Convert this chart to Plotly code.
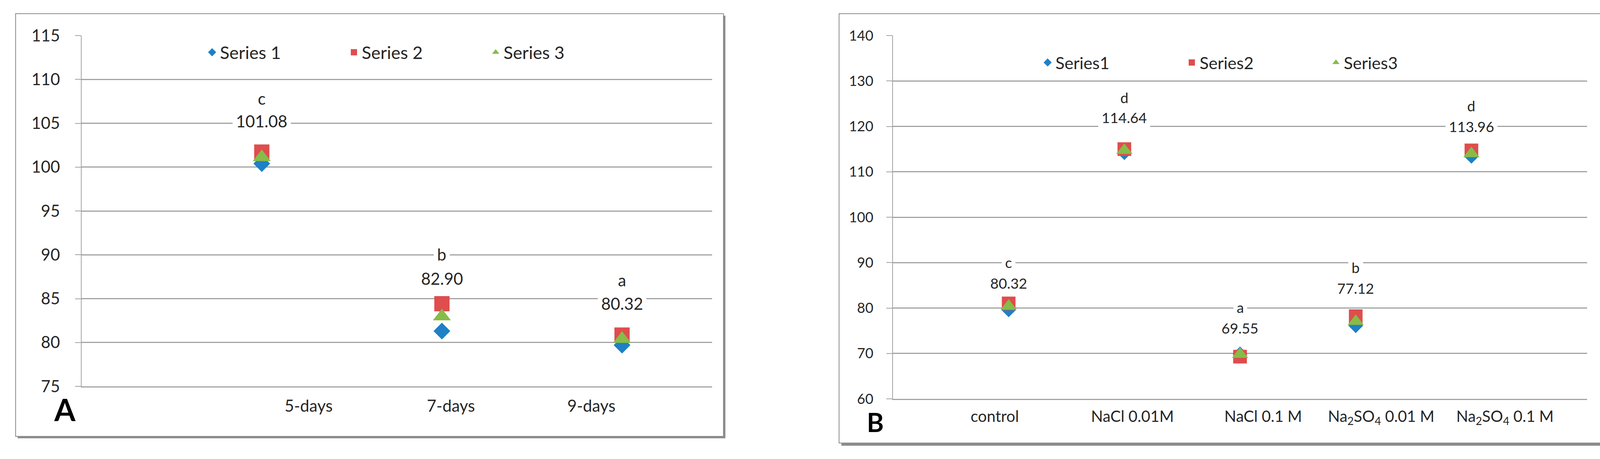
import plotly.graph_objects as go

W, H = 4150, 1175

# ---------------- data ----------------
cats_A = ["5-days", "7-days", "9-days"]
A_series1 = [100.40, 81.30, 79.70]
A_series2 = [101.72, 84.42, 80.85]
A_series3 = [101.12, 82.97, 80.40]
A_label_values = ["101.08", "82.90", "80.32"]
A_label_means = [101.08, 82.90, 80.32]
A_letters = ["c", "b", "a"]

cats_B = ["control", "NaCl 0.01M", "NaCl 0.1 M",
          "Na<sub>2</sub>SO<sub>4</sub> 0.01 M", "Na<sub>2</sub>SO<sub>4</sub> 0.1 M"]
B_series1 = [79.60, 114.20, 69.90, 76.10, 113.40]
B_series2 = [81.00, 115.00, 69.30, 78.20, 114.70]
B_series3 = [80.40, 114.70, 69.80, 77.05, 114.00]
B_label_values = ["80.32", "114.64", "69.55", "77.12", "113.96"]
B_label_means = [80.32, 114.64, 69.55, 77.12, 113.96]
B_letters = ["c", "d", "a", "b", "d"]

A_names = ["Series 1", "Series 2", "Series 3"]
B_names = ["Series1", "Series2", "Series3"]

# ---------------- styling / positions ----------------
FONT = "Lato, Carlito, 'Open Sans', sans-serif"
TXT = "#262626"
GRID = "#a3a3a3"
colors = ["#1f80c6", "#df4d4d", "#86bc48"]
symbols = ["diamond", "square", "triangle-up"]
sizes_A = [33, 39, 40]
sizes_B = [29, 35, 36]

A_num_shift = [94, 99, 93]
A_let_shift = [152, 161, 153]
B_num_shift = [60, 85, 70, 84, 70]
B_let_shift = [113, 136, 123, 137, 123]
A_tickpos = [1.26, 2.05, 2.83]
B_tickpos = [0.88, 2.07, 3.20, 4.22, 5.29]


def px(x):
    return x / W


def py(y):
    return 1 - y / H


fig = go.Figure()

for i in range(3):
    fig.add_trace(go.Scatter(
        x=[1, 2, 3], y=[A_series1, A_series2, A_series3][i], mode="markers",
        name=A_names[i], legend="legend", xaxis="x", yaxis="y",
        marker=dict(symbol=symbols[i], size=sizes_A[i], color=colors[i], line=dict(width=0)),
        hoverinfo="skip"))
for i in range(3):
    fig.add_trace(go.Scatter(
        x=[1, 2, 3, 4, 5], y=[B_series1, B_series2, B_series3][i], mode="markers",
        name=B_names[i], legend="legend2", xaxis="x2", yaxis="y2",
        marker=dict(symbol=symbols[i], size=sizes_B[i], color=colors[i], line=dict(width=0)),
        hoverinfo="skip"))

annotations = []
for k in range(3):
    annotations.append(dict(x=k + 1, y=A_label_means[k], xref="x", yref="y",
                            text=A_label_values[k], showarrow=False, yshift=A_num_shift[k],
                            xanchor="center", yanchor="middle",
                            bgcolor="white", borderpad=8,
                            font=dict(family=FONT, size=42, color=TXT)))
    annotations.append(dict(x=k + 1, y=A_label_means[k], xref="x", yref="y",
                            text=A_letters[k], showarrow=False, yshift=A_let_shift[k],
                            xanchor="center", yanchor="middle",
                            bgcolor="white", borderpad=8,
                            font=dict(family=FONT, size=42, color=TXT)))
for k in range(5):
    annotations.append(dict(x=k + 1, y=B_label_means[k], xref="x2", yref="y2",
                            text=B_label_values[k], showarrow=False, yshift=B_num_shift[k],
                            xanchor="center", yanchor="middle",
                            bgcolor="white", borderpad=8,
                            font=dict(family=FONT, size=37, color=TXT)))
    annotations.append(dict(x=k + 1, y=B_label_means[k], xref="x2", yref="y2",
                            text=B_letters[k], showarrow=False, yshift=B_let_shift[k],
                            xanchor="center", yanchor="middle",
                            bgcolor="white", borderpad=8,
                            font=dict(family=FONT, size=37, color=TXT)))

annotations.append(dict(x=px(166), y=py(1048), xref="paper", yref="paper", text="<b>A</b>",
                        xanchor="center", yanchor="middle",
                        showarrow=False, font=dict(family=FONT, size=78, color="black")))
annotations.append(dict(x=px(2240), y=py(1080), xref="paper", yref="paper", text="<b>B</b>",
                        xanchor="center", yanchor="middle",
                        showarrow=False, font=dict(family=FONT, size=66, color="black")))

shapes = []
FR = "#8c8c8c"
# panel A frame + shadow
shapes.append(dict(type="rect", xref="paper", yref="paper", x0=px(40), x1=px(1852), y0=py(1117), y1=py(35),
                   line=dict(color=FR, width=2)))
shapes.append(dict(type="rect", xref="paper", yref="paper", x0=px(1851), x1=px(1857), y0=py(1122), y1=py(40),
                   fillcolor=FR, line=dict(width=0)))
shapes.append(dict(type="rect", xref="paper", yref="paper", x0=px(45), x1=px(1857), y0=py(1122), y1=py(1116),
                   fillcolor=FR, line=dict(width=0)))
# panel B frame + shadow
shapes.append(dict(type="rect", xref="paper", yref="paper", x0=px(2148), x1=px(4105), y0=py(1134), y1=py(35),
                   line=dict(color=FR, width=2)))
shapes.append(dict(type="rect", xref="paper", yref="paper", x0=px(4103), x1=px(4112), y0=py(1141), y1=py(40),
                   fillcolor=FR, line=dict(width=0)))
shapes.append(dict(type="rect", xref="paper", yref="paper", x0=px(2154), x1=px(4112), y0=py(1141), y1=py(1133),
                   fillcolor=FR, line=dict(width=0)))

axis_common_y = dict(showgrid=True, gridcolor=GRID, gridwidth=3, showline=True, linecolor=GRID,
                     linewidth=2, ticks="outside", ticklen=15, tickwidth=2, tickcolor=GRID,
                     zeroline=False, fixedrange=True, automargin=False)
axis_common_x = dict(showgrid=False, showline=True, linecolor=GRID, linewidth=3, ticks="",
                     zeroline=False, fixedrange=True, automargin=False)

fig.update_layout(
    width=W, height=H, margin=dict(l=0, r=0, t=0, b=0, pad=0, autoexpand=False),
    paper_bgcolor="white", plot_bgcolor="white",
    font=dict(family=FONT, color=TXT),
    xaxis=dict(domain=[px(209), px(1823)], range=[0, 3.5], tickmode="array",
               tickvals=A_tickpos, ticktext=cats_A, tickfont=dict(size=42, color=TXT),
               ticklabelstandoff=12, **axis_common_x),
    yaxis=dict(domain=[py(989), py(91)], range=[75, 115], dtick=5, tick0=75,
               tickfont=dict(size=42, color=TXT), ticklabelstandoff=30, **axis_common_y),
    xaxis2=dict(domain=[px(2286), px(4063)], range=[0, 6], tickmode="array", anchor="y2",
                tickvals=B_tickpos, ticktext=cats_B, tickfont=dict(size=40, color=TXT),
                ticklabelstandoff=8, **axis_common_x),
    yaxis2=dict(domain=[py(1021), py(91)], range=[60, 140], dtick=10, tick0=60, anchor="x2",
                tickfont=dict(size=36, color=TXT), ticklabelstandoff=26, **axis_common_y),
    legend=dict(orientation="h", x=px(523), y=py(134), xanchor="left", yanchor="middle",
                xref="paper", yref="paper", bgcolor="rgba(0,0,0,0)",
                font=dict(family=FONT, size=45, color=TXT),
                entrywidth=318, entrywidthmode="pixels"),
    legend2=dict(orientation="h", x=px(2662), y=py(160), xanchor="left", yanchor="middle",
                 xref="paper", yref="paper", bgcolor="rgba(0,0,0,0)",
                 font=dict(family=FONT, size=43, color=TXT),
                 entrywidth=324, entrywidthmode="pixels"),
    annotations=annotations, shapes=shapes,
)

fig.write_html("out.html", config={"displayModeBar": False},
               post_script="document.body.style.margin='0px';")
